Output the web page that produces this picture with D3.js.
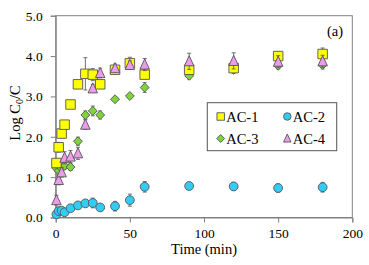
<!DOCTYPE html>
<html><head><meta charset="utf-8">
<script src="https://cdn.jsdelivr.net/npm/d3@7"></script>
</head>
<body style="margin:0;background:#fff"><svg id="c" width="369" height="265"></svg>
<script>
const times = [0.5, 2, 4, 6, 10, 15, 20, 25, 30, 40, 50, 60, 90, 120, 150, 180];
const ac1 = [1.35, 1.74, 2.08, 2.30, 2.80, 3.30, 3.56, 3.54, 3.30, 3.66, 3.82, 3.54, 3.66, 3.70, 4.00, 4.05];
const ac2 = [0.08, 0.16, 0.17, 0.13, 0.23, 0.30, 0.35, 0.36, 0.25, 0.28, 0.43, 0.76, 0.78, 0.77, 0.73, 0.75];
const ac3 = [1.22, 1.16, 1.22, 1.28, 1.25, 1.89, 2.54, 2.64, 2.54, 2.93, 3.01, 3.22, 3.51, 3.66, 3.76, 3.78];
const ac4 = [0.43, 0.93, 1.12, 1.48, 1.51, 1.59, 2.30, 3.20, 3.58, 3.70, 3.78, 3.79, 3.87, 3.88, 3.86, 3.87];
const err1 = [0.10, 0.12, 0.10, 0.10, 0.05, 0.05, 0.40, 0.15, 0.10, 0.10, 0.15, 0.10, 0.10, 0.10, 0.10, 0.15];
const err2 = [0.03, 0.05, 0.05, 0.05, 0.05, 0.05, 0.05, 0.12, 0.05, 0.12, 0.15, 0.13, 0.05, 0.10, 0.10, 0.12];
const err3 = [0.08, 0.08, 0.08, 0.08, 0.08, 0.10, 0.10, 0.12, 0.10, 0.05, 0.05, 0.12, 0.08, 0.08, 0.08, 0.10];
const err4 = [0.12, 0.12, 0.12, 0.15, 0.15, 0.15, 0.12, 0.10, 0.12, 0.10, 0.10, 0.15, 0.20, 0.20, 0.15, 0.15];
const seriesNames = ["AC-1", "AC-2", "AC-3", "AC-4"];
const xTicks = [0, 50, 100, 150, 200];
const yTicks = [0, 1, 2, 3, 4, 5];

const FONT = "'Liberation Serif'";
const svg = d3.select("#c");
const L = 55.7, R = 352.3, T = 15.7, B = 217.5;
const x = d3.scaleLinear().domain([0, 200]).range([L, R]);
const y = d3.scaleLinear().domain([0, 5]).range([B, T]);
const axisCol = "#808080";

function txt(sel, size) {
  return sel.style("font-family", FONT).attr("font-size", size).attr("fill", "#000");
}

// frame
svg.append("rect").attr("x", L).attr("y", T).attr("width", R - L).attr("height", B - T)
  .attr("fill", "none").attr("stroke", axisCol).attr("stroke-width", 1);

const xa = svg.append("g").attr("transform", `translate(0,${B})`)
  .call(d3.axisBottom(x).tickValues(xTicks).tickSize(5).tickFormat(d3.format("d")));
const ya = svg.append("g").attr("transform", `translate(${L},0)`)
  .call(d3.axisLeft(y).tickValues(yTicks).tickSize(5).tickFormat(d3.format(".1f")));
[xa, ya].forEach(g => {
  g.attr("font-family", null).attr("font-size", null);
  g.select(".domain").attr("stroke", axisCol);
  g.selectAll(".tick line").attr("stroke", axisCol);
  txt(g.selectAll(".tick text"), 13.5);
});
xa.selectAll(".tick text").attr("dy", "0.71em").attr("y", 11);
ya.selectAll(".tick text").attr("x", -13);

const styles = [
  {name: seriesNames[0], vals: ac1, err: err1, fill: "#FFFF00", shape: "square"},
  {name: seriesNames[1], vals: ac2, err: err2, fill: "#33CCF5", shape: "circle"},
  {name: seriesNames[2], vals: ac3, err: err3, fill: "#7ED43A", shape: "diamond"},
  {name: seriesNames[3], vals: ac4, err: err4, fill: "#EE9BEE", shape: "triangle"}
];

function shapePath(shape, s) {
  if (shape === "square") { const h = s / 2; return `M${-h},${-h}H${h}V${h}H${-h}Z`; }
  if (shape === "circle") { const r = s / 2; return `M${r},0A${r},${r} 0 1,1 ${-r},0A${r},${r} 0 1,1 ${r},0Z`; }
  if (shape === "diamond") { const h = s / 2 * 1.05; return `M0,${-h}L${h},0L0,${h}L${-h},0Z`; }
  if (shape === "triangle") { const h = s / 2; return `M0,${-h - 0.8}L${h},${h - 0.2}L${-h},${h - 0.2}Z`; }
}
const sizes = {square: 9.5, circle: 8.8, diamond: 8.5, triangle: 9.5};

const order = [1, 2, 0, 3];
order.forEach(i => {
  const st = styles[i];
  const g = svg.append("g");
  times.forEach((t, j) => {
    const cx = x(t), v = st.vals[j], e = st.err[j];
    const eg = g.append("g").attr("stroke", "#606060").attr("stroke-width", 0.9);
    eg.append("line").attr("x1", cx).attr("x2", cx).attr("y1", y(v - e)).attr("y2", y(v + e));
    eg.append("line").attr("x1", cx - 2).attr("x2", cx + 2).attr("y1", y(v - e)).attr("y2", y(v - e));
    eg.append("line").attr("x1", cx - 2).attr("x2", cx + 2).attr("y1", y(v + e)).attr("y2", y(v + e));
  });
  g.selectAll("path.m").data(times).join("path").attr("class", "m")
    .attr("d", shapePath(st.shape, sizes[st.shape]))
    .attr("transform", (t, j) => `translate(${x(t)},${y(st.vals[j])})`)
    .attr("fill", st.fill).attr("stroke", "#555").attr("stroke-width", 0.9);
});

// legend
const lg = svg.append("g");
lg.append("rect").attr("x", 207.3).attr("y", 102.7).attr("width", 129.4).attr("height", 48)
  .attr("fill", "#fff").attr("stroke", "#555").attr("stroke-width", 1);
const lpos = [[220.7, 116.5], [287.3, 116.5], [220.7, 138.5], [287.3, 138.5]];
styles.forEach((st, i) => {
  const [lx, ly] = lpos[i];
  lg.append("path").attr("d", shapePath(st.shape, 7.5)).attr("transform", `translate(${lx},${ly})`)
    .attr("fill", st.fill).attr("stroke", "#555").attr("stroke-width", 0.9);
  txt(lg.append("text").attr("x", lx + 5.5).attr("y", ly + 5), 14.5).text(st.name);
});

// panel label
txt(svg.append("text").attr("x", 343).attr("y", 36).attr("text-anchor", "end"), 14.5).text("(a)");

// axis titles
txt(svg.append("text").attr("x", 204).attr("y", 254).attr("text-anchor", "middle"), 14.5).text("Time (min)");
const yt = txt(svg.append("text").attr("transform", "translate(20,113) rotate(-90)")
  .attr("text-anchor", "middle"), 14.5);
yt.append("tspan").text("Log C");
yt.append("tspan").attr("font-size", 10).attr("dy", 3).text("0");
yt.append("tspan").attr("dy", -3).text("/C");
</script></body></html>
